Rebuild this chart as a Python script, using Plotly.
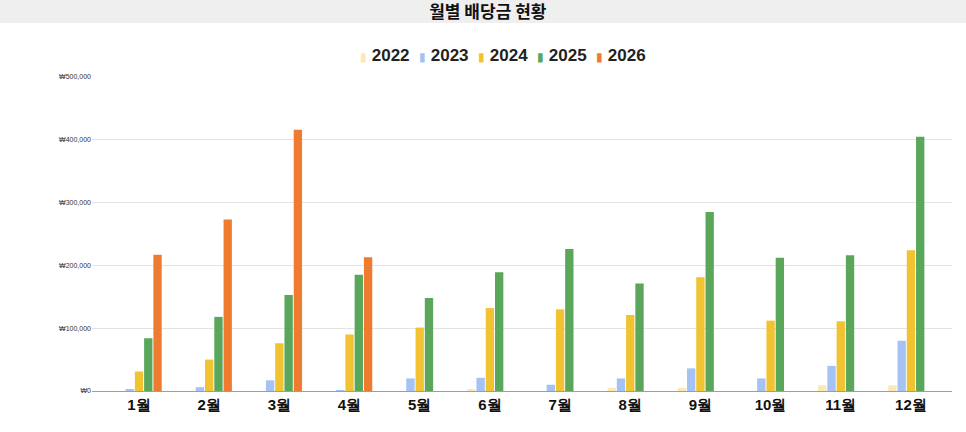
import plotly.graph_objects as go

# 월별 배당금 (원)
months = ["1월", "2월", "3월", "4월", "5월", "6월", "7월", "8월", "9월", "10월", "11월", "12월"]
years = ["2022", "2023", "2024", "2025", "2026"]

div_2022 = [0, 0, 0, 0, 0, 2000, 0, 5000, 5000, 0, 9000, 9000]
div_2023 = [2000, 6000, 17000, 1500, 20000, 21000, 10000, 20000, 36000, 20000, 40000, 80000]
div_2024 = [31000, 50000, 76000, 90000, 101000, 132000, 130000, 121000, 181000, 112000, 111000, 224000]
div_2025 = [84000, 118000, 153000, 185000, 148000, 189000, 226000, 171000, 285000, 212000, 216000, 405000]
div_2026 = [217000, 273000, 416000, 213000, None, None, None, None, None, None, None, None]

colors = {
    "2022": "#fce8b2",
    "2023": "#a4c2f4",
    "2024": "#f1c232",
    "2025": "#5aa75c",
    "2026": "#ef7b30",
}

series = dict(zip(years, [div_2022, div_2023, div_2024, div_2025, div_2026]))

fig = go.Figure()
for yr in years:
    fig.add_trace(go.Bar(
        x=months, y=series[yr], name=yr,
        marker=dict(color=colors[yr], line=dict(width=0)),
    ))

W, H = 966, 432
L, R, T, B = 92, 14, 77, 41
pw, ph = W - L - R, H - T - B

# legend drawn as one line of text so the spacing is tight like the original
legend_txt = "  ".join(
    f'<span style="color:{colors[yr]};font-size:12px">▮</span> <b>{yr}</b>' for yr in years
)

fig.update_layout(
    width=W, height=H,
    margin=dict(l=L, r=R, t=T, b=B, autoexpand=False),
    paper_bgcolor="white", plot_bgcolor="white",
    barmode="group", bargap=0.34, bargroupgap=0.1,
    showlegend=False,
    font=dict(family="Liberation Sans, Arial, sans-serif", color="#222"),
    title=dict(
        text="<b>월별 배당금 현황</b>", x=0.505, xanchor="center",
        y=1 - 12 / H, yanchor="middle",
        font=dict(family="Noto Sans CJK KR", size=17, color="#111"),
    ),
    annotations=[dict(
        text=legend_txt, xref="paper", yref="paper",
        x=(503 - L) / pw, xanchor="center", y=(T + ph - 55) / ph, yanchor="middle",
        showarrow=False, font=dict(size=17, color="#222"),
    )],
    shapes=[dict(
        type="rect", xref="paper", yref="paper",
        x0=-L / pw, x1=(W - L) / pw, y0=(ph + T - 23) / ph, y1=(ph + T) / ph,
        fillcolor="#efefef", line=dict(width=0), layer="below",
    )],
)

fig.update_xaxes(
    range=[-0.67, 11.585],
    showgrid=False, showline=True, linecolor="#9e9e9e", linewidth=1,
    tickfont=dict(size=15, color="#111", weight="bold"), ticks="",
)
fig.update_yaxes(
    range=[0, 500000], dtick=100000, tickprefix="₩", tickformat=",d",
    showgrid=True, gridcolor="#e3e3e3", zeroline=False,
    tickfont=dict(size=7, color="#333"), ticks="",
)

# drop the default 8px page margin so the figure sits at the window corner
fig.write_html("out.html", config={"displayModeBar": False},
               post_script="document.body.style.margin='0';")
